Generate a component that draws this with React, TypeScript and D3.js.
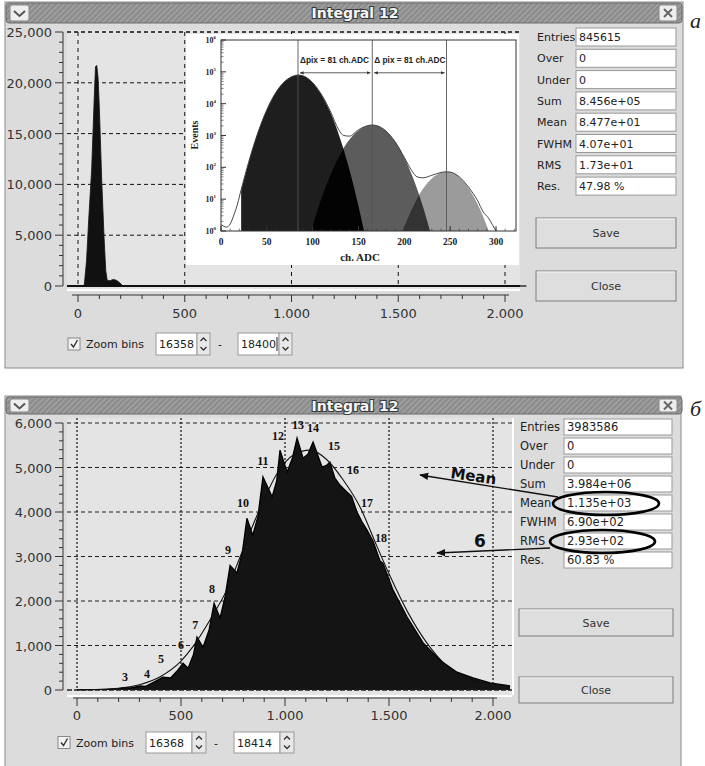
import React from "react";
import * as d3 from "d3";

// ---------------- Window а (top) : histogram ----------------
const histA_ch = [0, 25, 30, 40, 50, 64, 76, 82, 88, 94, 100, 111, 122, 130, 137, 150, 165, 180, 195, 208, 220, 2100];
const histA_counts = [0, 0, 200, 2500, 6500, 11500, 18500, 21600, 21700, 20500, 17500, 10500, 4800, 1500, 550, 520, 650, 560, 330, 60, 0, 0];
const yTicksA = [0, 5000, 10000, 15000, 20000, 25000];
const yTickLabelsA = ["0", "5,000", "10,000", "15,000", "20,000", "25,000"];
const xTicks = [0, 500, 1000, 1500, 2000];
const xTickLabels = ["0", "500", "1.000", "1.500", "2.000"];

// inset (log scale, values given as log10 of Events)
const insetDark_ch = [22, 30, 40, 50, 60, 70, 80, 84, 90, 100, 110, 120, 130, 140, 150, 156];
const insetDark_log = [1.27, 2.14, 3.07, 3.81, 4.36, 4.71, 4.88, 4.9, 4.87, 4.66, 4.26, 3.68, 2.9, 1.94, 0.78, 0];
const insetMid_ch = [98, 100, 110, 120, 130, 140, 150, 160, 165, 170, 180, 190, 200, 210, 220, 228];
const insetMid_log = [0, 0.2, 1.09, 1.83, 2.42, 2.87, 3.16, 3.31, 3.33, 3.31, 3.14, 2.8, 2.3, 1.63, 0.79, 0];
const insetLight_ch = [198, 200, 210, 220, 230, 240, 246, 250, 260, 270, 280, 290, 292];
const insetLight_log = [0, 0.15, 0.81, 1.31, 1.65, 1.83, 1.86, 1.85, 1.69, 1.35, 0.84, 0.16, 0];
const insetTotal_ch = [0, 3, 6, 10, 14, 18, 22, 30, 40, 50, 60, 70, 80, 84, 90, 100, 110, 120, 128, 134, 140, 150, 160, 165, 170, 180, 190, 200, 208, 214, 220, 230, 240, 246, 250, 260, 270, 280, 286, 292, 296, 300];
const insetTotal_log = [0.2, 0.15, 0.12, 0.22, 0.5, 0.85, 1.3, 2.15, 3.07, 3.81, 4.36, 4.71, 4.88, 4.9, 4.87, 4.66, 4.27, 3.72, 3.2, 3.0, 2.98, 3.18, 3.31, 3.33, 3.31, 3.14, 2.8, 2.31, 1.9, 1.7, 1.67, 1.75, 1.84, 1.86, 1.85, 1.7, 1.38, 0.95, 0.6, 0.4, 0.2, 0];
const insetPeaks = [84, 165, 246];
const insetXTicks = [0, 50, 100, 150, 200, 250, 300];
const insetYExp = [0, 1, 2, 3, 4, 5, 6];

const statLabels = ["Entries", "Over", "Under", "Sum", "Mean", "FWHM", "RMS", "Res."];
const statsA = ["845615", "0", "0", "8.456e+05", "8.477e+01", "4.07e+01", "1.73e+01", "47.98 %"];
const statsB = ["3983586", "0", "0", "3.984e+06", "1.135e+03", "6.90e+02", "2.93e+02", "60.83 %"];

// ---------------- Window б (bottom) ----------------
const histB_ch = [0, 150, 192, 230, 260, 303, 330, 370, 413, 450, 480, 510, 534, 560, 577, 606, 635, 659, 688, 712, 736, 769, 795, 817, 845, 870, 894, 938, 960, 976, 1010, 1035, 1058, 1087, 1110, 1135, 1178, 1200, 1216, 1240, 1265, 1289, 1320, 1346, 1370, 1394, 1423, 1457, 1471, 1519, 1587, 1664, 1745, 1827, 1904, 1986, 2082];
const histB_counts = [10, 15, 25, 55, 45, 90, 80, 180, 290, 270, 420, 600, 490, 800, 1190, 960, 1350, 1950, 1620, 2100, 2800, 2630, 3100, 3860, 3480, 3900, 4790, 4340, 4700, 5390, 4900, 5200, 5660, 5210, 5300, 5570, 5010, 5050, 5120, 4760, 4600, 4490, 4350, 4000, 3780, 3600, 3350, 2900, 2850, 2250, 1640, 1060, 670, 400, 270, 160, 90];
const fitB_ch = [0, 200, 300, 400, 500, 560, 640, 720, 785, 880, 960, 1040, 1120, 1200, 1280, 1360, 1440, 1505, 1590, 1680, 1780, 1900, 2000, 2075];
const fitB_counts = [0, 40, 120, 300, 650, 990, 1580, 2250, 3000, 4080, 4850, 5280, 5390, 5180, 4720, 4120, 3250, 2560, 1750, 1070, 530, 220, 130, 100];
const yTicksB = [0, 1000, 2000, 3000, 4000, 5000, 6000];
const yTickLabelsB = ["0", "1,000", "2,000", "3,000", "4,000", "5,000", "6,000"];
const peakLabels = ["3", "4", "5", "6", "7", "8", "9", "10", "11", "12", "13", "14", "15", "16", "17", "18"];
const peakLabel_ch = [231, 337, 404, 500, 568, 649, 726, 798, 894, 966, 1063, 1135, 1236, 1327, 1394, 1462];
const peakLabel_val = [292, 360, 697, 1011, 1461, 2270, 3146, 4202, 5146, 5707, 5954, 5887, 5483, 4943, 4202, 3416];

const GUI = "'DejaVu Sans', sans-serif";
const SERIF = "'Liberation Serif', 'DejaVu Serif', serif";
const WIN_BG = "#dcdcdc";
const PLOT_BG = "#e4e4e4";

function TitleBar({ y, h }: { y: number; h: number }) {
  return (
    <g>
      <rect x={6} y={y} width={676} height={h} rx={3} fill="url(#hatch)" stroke="#6a6a6a" />
      <rect x={10} y={y + 2} width={19} height={h - 4} rx={2} fill="#eeeeee" stroke="#888" />
      <path d={`M${14},${y + h / 2 - 2} L${19.5},${y + h / 2 + 3} L${25},${y + h / 2 - 2}`} fill="none" stroke="#555" strokeWidth={2} />
      <rect x={659} y={y + 2} width={18} height={h - 4} rx={2} fill="#eeeeee" stroke="#888" />
      <path d={`M${664},${y + h / 2 - 4} L${672},${y + h / 2 + 4} M${672},${y + h / 2 - 4} L${664},${y + h / 2 + 4}`} stroke="#666" strokeWidth={2} />
      <text x={355} y={y + h / 2 + 5} textAnchor="middle" fontFamily={GUI} fontWeight="bold" fontSize={14}
        fill="#f6f6f6" stroke="#3a3a3a" strokeWidth={2.2} style={{ paintOrder: "stroke" }}>Integral 12</text>
    </g>
  );
}

function StatsPanel({ values, labelX, boxX, boxW, top, pitch, boxH, fs }: any) {
  return (
    <g fontFamily={GUI} fontSize={fs}>
      {statLabels.map((l, i) => (
        <g key={l}>
          <text x={labelX} y={top + i * pitch + boxH / 2 + 4} fill="#222">{l}</text>
          <rect x={boxX} y={top + i * pitch} width={boxW} height={boxH} fill="#fff" stroke="#999" />
          <text x={boxX + 3} y={top + i * pitch + boxH / 2 + 4} fill="#222">{values[i]}</text>
        </g>
      ))}
    </g>
  );
}

function Button({ x, y, w, h, label }: any) {
  return (
    <g>
      <rect x={x} y={y} width={w} height={h} fill="#dedede" stroke="#7d7d7d" />
      <line x1={x + 1} x2={x + w - 1} y1={y + 1} y2={y + 1} stroke="#f4f4f4" />
      <text x={x + w / 2} y={y + h / 2 + 4} textAnchor="middle" fontFamily={GUI} fontSize={11} fill="#333">{label}</text>
    </g>
  );
}

function ZoomRow({ x, y, h, boxW, spinW, v1, v2, caret }: any) {
  const b1 = x + 88;
  const b2 = b1 + boxW + spinW + 28;
  const spin = (sx: number) => (
    <g>
      <rect x={sx} y={y} width={spinW} height={h} fill="#e8e8e8" stroke="#999" />
      <path d={`M${sx + spinW / 2 - 3},${y + h / 2 - 3} L${sx + spinW / 2},${y + h / 2 - 6} L${sx + spinW / 2 + 3},${y + h / 2 - 3}`} fill="none" stroke="#333" strokeWidth={1.3} />
      <path d={`M${sx + spinW / 2 - 3},${y + h / 2 + 3} L${sx + spinW / 2},${y + h / 2 + 6} L${sx + spinW / 2 + 3},${y + h / 2 + 3}`} fill="none" stroke="#333" strokeWidth={1.3} />
    </g>
  );
  return (
    <g fontFamily={GUI} fontSize={11} fill="#222">
      <rect x={x} y={y + h / 2 - 6} width={12} height={12} fill="#f2f2f2" stroke="#888" />
      <path d={`M${x + 3},${y + h / 2} L${x + 5.5},${y + h / 2 + 3} L${x + 9.5},${y + h / 2 - 4}`} fill="none" stroke="#333" strokeWidth={1.4} />
      <text x={x + 18} y={y + h / 2 + 4}>Zoom bins</text>
      <rect x={b1} y={y} width={boxW} height={h} fill="#fff" stroke="#999" />
      <text x={b1 + 3} y={y + h / 2 + 4}>{v1}</text>
      {spin(b1 + boxW)}
      <text x={b1 + boxW + spinW + 8} y={y + h / 2 + 4}>-</text>
      <rect x={b2} y={y} width={boxW} height={h} fill="#fff" stroke="#999" />
      <text x={b2 + 3} y={y + h / 2 + 4}>{v2}</text>
      {caret && <line x1={b2 + 39} x2={b2 + 39} y1={y + 4} y2={y + h - 4} stroke="#222" />}
      {spin(b2 + boxW)}
    </g>
  );
}

export default function App() {
  const xA = d3.scaleLinear().domain([0, 2000]).range([78, 505]);
  const yA = d3.scaleLinear().domain([0, 25000]).range([286, 32]);
  const xB = d3.scaleLinear().domain([0, 2000]).range([77, 493]);
  const yB = d3.scaleLinear().domain([0, 6000]).range([690, 423]);
  const xI = d3.scaleLinear().domain([0, 300]).range([221, 496]);
  const yI = d3.scaleLog().domain([1, 1e6]).range([231, 40]);

  const plotA = { x0: 67, x1: 520, y0: 30, y1: 289 };
  const plotB = { x0: 67, x1: 512, y0: 418, y1: 695 };

  const areaA = d3.area<number>().x((_, i) => xA(histA_ch[i])).y0(yA(0)).y1((d) => yA(d))(histA_counts) || "";
  const areaB = d3.area<number>().x((_, i) => xB(histB_ch[i])).y0(yB(0)).y1((d) => yB(d))(histB_counts) || "";
  const lineB = d3.line<number>().x((_, i) => xB(histB_ch[i])).y((d) => yB(d))(histB_counts) || "";
  const fitB = d3.line<number>().x((_, i) => xB(fitB_ch[i])).y((d) => yB(d)).curve(d3.curveMonotoneX)(fitB_counts) || "";

  const insetArea = (chs: number[], logs: number[]) =>
    d3.area<number>().x((_, i) => xI(chs[i])).y0(yI(1)).y1((d) => yI(Math.pow(10, d))).curve(d3.curveMonotoneX)(logs) || "";
  const darkP = insetArea(insetDark_ch, insetDark_log);
  const midP = insetArea(insetMid_ch, insetMid_log);
  const lightP = insetArea(insetLight_ch, insetLight_log);
  const totalP = d3.line<number>().x((_, i) => xI(insetTotal_ch[i])).y((d) => yI(Math.pow(10, d))).curve(d3.curveMonotoneX)(insetTotal_log) || "";

  const minorXA = d3.range(0, 2001, 100);
  const minorYA = d3.range(0, 25001, 1000);
  const minorYB = d3.range(0, 6001, 200);
  const insetMinorY: number[] = [];
  for (let e = 0; e < 6; e++) for (let m = 2; m <= 9; m++) insetMinorY.push(m * Math.pow(10, e));
  const insetMinorX = d3.range(0, 321, 10);
  const arrowY = yI(Math.pow(10, 4.97));

  return (
    <svg width={705} height={766} style={{ position: "absolute", left: 0, top: 0, background: "#fff" }}>
      <defs>
        <pattern id="hatch" width={4} height={4} patternUnits="userSpaceOnUse" patternTransform="rotate(45)">
          <rect width={4} height={4} fill="#8e8e8e" />
          <line x1={0} y1={0} x2={0} y2={4} stroke="#b4b4b4" strokeWidth={1.4} />
        </pattern>
        <clipPath id="clipDark"><path d={darkP} /></clipPath>
        <clipPath id="clipMid"><path d={midP} /></clipPath>
        <clipPath id="clipInset"><rect x={221} y={40} width={295} height={191} /></clipPath>
        <marker id="arrA" viewBox="0 0 10 10" refX={9} refY={5} markerWidth={5} markerHeight={5} orient="auto-start-reverse">
          <path d="M0,1 L10,5 L0,9 z" fill="#333" />
        </marker>
        <marker id="arrBig" viewBox="0 0 10 10" refX={9} refY={5} markerWidth={7} markerHeight={7} orient="auto">
          <path d="M0,1 L10,5 L0,9 z" fill="#111" />
        </marker>
      </defs>

      {/* ================= Window а ================= */}
      <rect x={5} y={2} width={678} height={366} fill={WIN_BG} stroke="#8a8a8a" />
      <TitleBar y={3} h={20} />
      <rect x={plotA.x0} y={plotA.y0} width={plotA.x1 - plotA.x0} height={plotA.y1 - plotA.y0} fill={PLOT_BG} />
      <line x1={plotA.x0} x2={plotA.x1} y1={plotA.y1 + 1} y2={plotA.y1 + 1} stroke="#fff" strokeWidth={2} />
      {yTicksA.slice(1).map((t) => (
        <line key={t} x1={plotA.x0} x2={plotA.x1} y1={yA(t)} y2={yA(t)} stroke="#111" strokeDasharray="4,3" strokeWidth={t === 25000 ? 1.5 : 1} />
      ))}
      {xTicks.map((t) => (
        <line key={t} x1={xA(t)} x2={xA(t)} y1={yA(25000)} y2={yA(0)} stroke="#111" strokeDasharray="4,4" />
      ))}
      <path d={areaA} fill="#111" stroke="#111" strokeWidth={0.8} />

      {/* inset */}
      <rect x={186} y={34} width={333} height={231} fill="#fff" />
      <g clipPath="url(#clipInset)">
        <path d={darkP} fill="#1e1e1e" />
        <path d={midP} fill="#5c5c5c" />
        <path d={lightP} fill="#9b9b9b" />
        <path d={midP} fill="#030303" clipPath="url(#clipDark)" />
        <path d={lightP} fill="#333" clipPath="url(#clipMid)" />
        <path d={totalP} fill="none" stroke="#333" strokeWidth={0.9} />
      </g>
      {insetPeaks.map((p) => (
        <line key={p} x1={xI(p)} x2={xI(p)} y1={40} y2={231} stroke="#555" strokeWidth={0.9} />
      ))}
      <line x1={xI(insetPeaks[0]) + 2} x2={xI(insetPeaks[1]) - 2} y1={arrowY} y2={arrowY} stroke="#333" strokeWidth={0.8} markerStart="url(#arrA)" markerEnd="url(#arrA)" />
      <line x1={xI(insetPeaks[1]) + 2} x2={xI(insetPeaks[2]) - 2} y1={arrowY} y2={arrowY} stroke="#333" strokeWidth={0.8} markerStart="url(#arrA)" markerEnd="url(#arrA)" />
      <g fontFamily="'Liberation Sans', Arial, sans-serif" fontWeight="bold" fontSize={8.3} fill="#222">
        <text x={xI(insetPeaks[0]) + 2} y={arrowY - 10}>Δpix = 81 ch.ADC</text>
        <text x={xI(insetPeaks[1]) + 2} y={arrowY - 10}>Δ pix = 81 ch.ADC</text>
      </g>
      <rect x={221} y={40} width={295} height={191} fill="none" stroke="#333" strokeWidth={1} />
      <g fontFamily={SERIF} fontWeight="bold" fill="#222">
        {insetXTicks.map((t) => (
          <g key={t}>
            <line x1={xI(t)} x2={xI(t)} y1={231} y2={226} stroke="#333" />
            <text x={xI(t)} y={245} textAnchor="middle" fontSize={9.5}>{t}</text>
          </g>
        ))}
        {insetMinorX.map((t) => (
          <line key={"m" + t} x1={xI(t)} x2={xI(t)} y1={231} y2={228.5} stroke="#333" strokeWidth={0.6} />
        ))}
        {insetYExp.map((e) => (
          <g key={e}>
            <line x1={221} x2={226} y1={yI(Math.pow(10, e))} y2={yI(Math.pow(10, e))} stroke="#333" />
            <text x={216} y={yI(Math.pow(10, e)) + 3} textAnchor="end" fontSize={8}>
              10<tspan fontSize={5} dy={-4}>{e}</tspan>
            </text>
          </g>
        ))}
        {insetMinorY.map((v, i) => (
          <line key={"my" + i} x1={221} x2={223.5} y1={yI(v)} y2={yI(v)} stroke="#333" strokeWidth={0.6} />
        ))}
        <text x={360} y={261} textAnchor="middle" fontSize={11}>ch. ADC</text>
        <text transform="translate(198,135) rotate(-90)" textAnchor="middle" fontSize={10}>Events</text>
      </g>

      <line x1={plotA.x0} x2={plotA.x1} y1={yA(0)} y2={yA(0)} stroke="#111" strokeWidth={2} />
      <g fontFamily={GUI} fontSize={13} fill="#333">
        <line x1={63} x2={63} y1={yA(25000)} y2={yA(0)} stroke="#333" />
        {minorYA.map((t) => (
          <line key={t} x1={t % 5000 === 0 ? 55 : 59} x2={63} y1={yA(t)} y2={yA(t)} stroke="#333" />
        ))}
        {yTicksA.map((t, i) => (
          <text key={t} x={52} y={yA(t) + 5} textAnchor="end">{yTickLabelsA[i]}</text>
        ))}
        <line x1={72} x2={509} y1={295} y2={295} stroke="#333" />
        {minorXA.map((t) => (
          <line key={t} x1={xA(t)} x2={xA(t)} y1={295} y2={t % 500 === 0 ? 302 : 299} stroke="#333" />
        ))}
        {xTicks.map((t, i) => (
          <text key={t} x={xA(t)} y={318} textAnchor="middle">{xTickLabels[i]}</text>
        ))}
      </g>
      <ZoomRow x={68} y={333} h={22} boxW={41} spinW={13} v1="16358" v2="18400" caret />
      <StatsPanel values={statsA} labelX={537} boxX={576} boxW={100} top={28} pitch={21.3} boxH={18} fs={11} />
      <Button x={536} y={218} w={140} h={30} label="Save" />
      <Button x={536} y={271} w={140} h={30} label="Close" />
      <text x={690} y={28} fontFamily={SERIF} fontStyle="italic" fontSize={22} fill="#222">а</text>

      {/* ================= Window б ================= */}
      <rect x={5} y={396} width={676} height={372} fill={WIN_BG} stroke="#8a8a8a" />
      <TitleBar y={397} h={17} />
      <rect x={plotB.x0} y={plotB.y0} width={plotB.x1 - plotB.x0} height={plotB.y1 - plotB.y0} fill={PLOT_BG} />
      <line x1={plotB.x1 + 1} x2={plotB.x1 + 1} y1={plotB.y0} y2={plotB.y1} stroke="#fff" strokeWidth={2} />
      <line x1={plotB.x0} x2={plotB.x1} y1={plotB.y1 + 1} y2={plotB.y1 + 1} stroke="#fff" strokeWidth={2} />
      {yTicksB.slice(1).map((t) => (
        <line key={t} x1={plotB.x0} x2={plotB.x1} y1={yB(t)} y2={yB(t)} stroke="#222" strokeDasharray="4,3" />
      ))}
      {xTicks.map((t) => (
        <line key={t} x1={xB(t)} x2={xB(t)} y1={plotB.y0} y2={yB(0)} stroke="#222" strokeDasharray="2,2" strokeWidth={1.3} />
      ))}
      <path d={areaB} fill="#141414" />
      <path d={lineB} fill="none" stroke="#000" strokeWidth={1.3} />
      <line x1={plotB.x0} x2={plotB.x1} y1={yB(0)} y2={yB(0)} stroke="#222" strokeWidth={1.5} strokeDasharray="5,2" />
      <path d={fitB} fill="none" stroke="#111" strokeWidth={1.1} />
      <g fontFamily={SERIF} fontWeight="bold" fontSize={12} fill="#111">
        {peakLabels.map((l, i) => (
          <text key={l} x={xB(peakLabel_ch[i])} y={yB(peakLabel_val[i]) + 4} textAnchor="middle">{l}</text>
        ))}
      </g>
      <g fontFamily={GUI} fontSize={13} fill="#333">
        <line x1={63} x2={63} y1={yB(6000)} y2={yB(0)} stroke="#333" />
        {minorYB.map((t) => (
          <line key={t} x1={t % 1000 === 0 ? 55 : 59} x2={63} y1={yB(t)} y2={yB(t)} stroke="#333" />
        ))}
        {yTicksB.map((t, i) => (
          <text key={t} x={52} y={yB(t) + 5} textAnchor="end">{yTickLabelsB[i]}</text>
        ))}
        <line x1={73} x2={497} y1={698} y2={698} stroke="#333" />
        {minorXA.map((t) => (
          <line key={t} x1={xB(t)} x2={xB(t)} y1={698} y2={t % 500 === 0 ? 706 : 702} stroke="#333" />
        ))}
        {xTicks.map((t, i) => (
          <text key={t} x={xB(t)} y={720} textAnchor="middle">{xTickLabels[i]}</text>
        ))}
      </g>
      <ZoomRow x={58} y={732} h={21} boxW={46} spinW={14} v1="16368" v2="18414" />
      <StatsPanel values={statsB} labelX={520} boxX={564} boxW={108} top={419} pitch={19} boxH={16} fs={11.5} />
      <Button x={519} y={609} w={154} h={27} label="Save" />
      <Button x={519} y={677} w={154} h={26} label="Close" />

      <line x1={558} y1={497} x2={420} y2={475} stroke="#111" strokeWidth={1.3} markerEnd="url(#arrBig)" />
      <text transform="translate(450,478) rotate(8)" fontFamily={GUI} fontWeight="bold" fontSize={15} fill="#111">Mean</text>
      <line x1={550} y1={548} x2={437} y2={553} stroke="#111" strokeWidth={1.3} markerEnd="url(#arrBig)" />
      <text x={480} y={547} textAnchor="middle" fontFamily={GUI} fontWeight="bold" fontSize={17} fill="#111">6</text>
      <ellipse cx={606} cy={503.5} rx={53} ry={11.5} fill="none" stroke="#000" strokeWidth={2.6} />
      <ellipse cx={602.5} cy={541.5} rx={52.5} ry={11.5} fill="none" stroke="#000" strokeWidth={2.6} />
      <text x={690} y={416} fontFamily={SERIF} fontStyle="italic" fontSize={22} fill="#222">б</text>
    </svg>
  );
}
